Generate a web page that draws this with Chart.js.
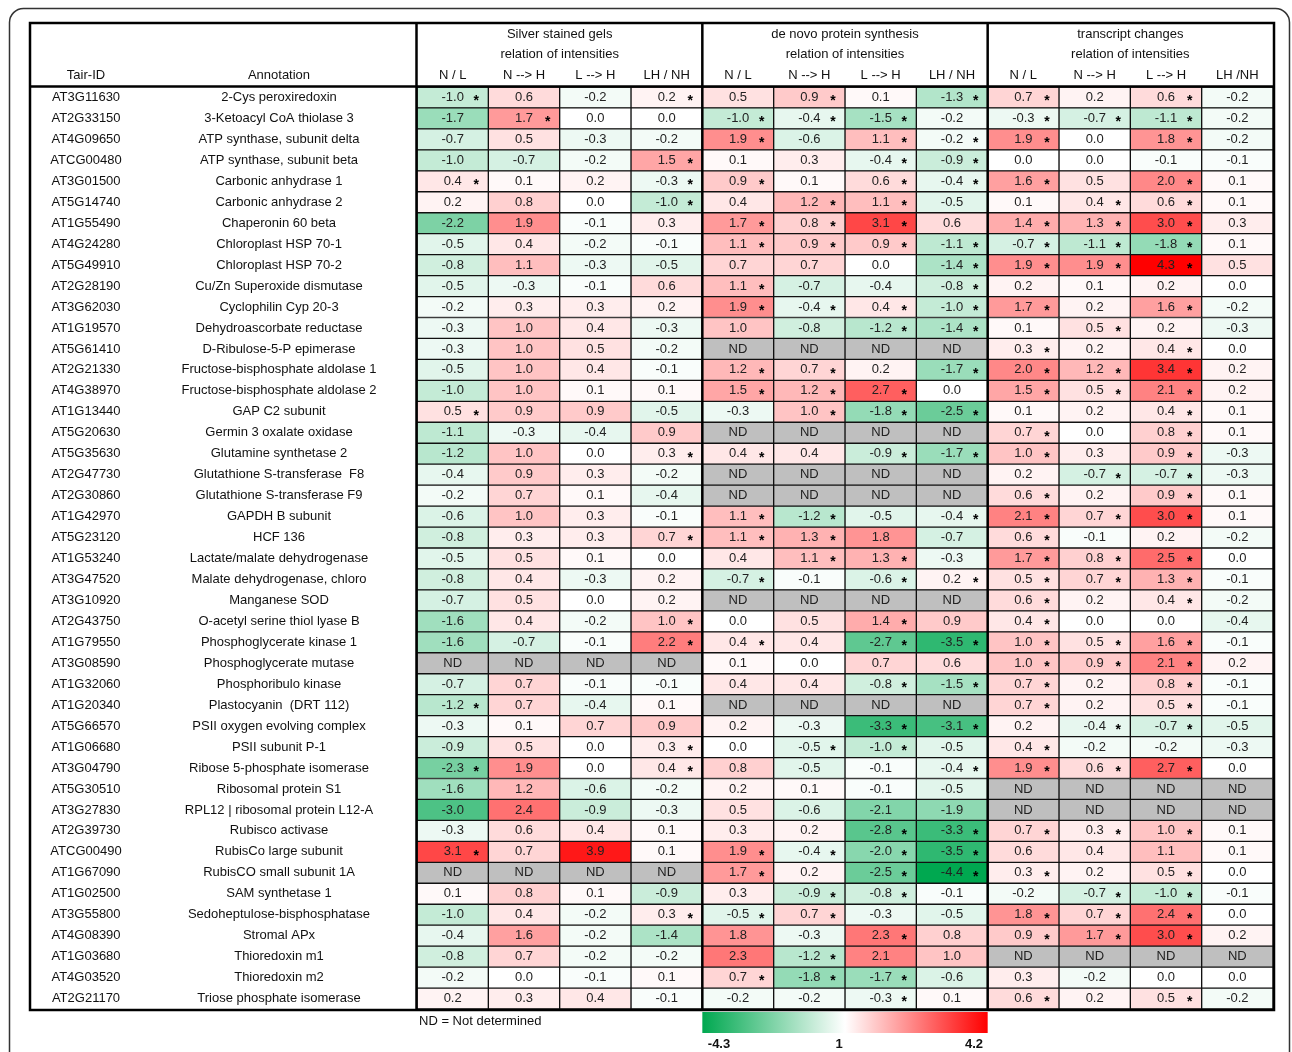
<!DOCTYPE html>
<html>
<head>
<meta charset="utf-8">
<script src="https://cdn.jsdelivr.net/npm/chart.js@4"></script>
<style>
html, body { margin: 0; padding: 0; background: #fff; }
#wrap { position: relative; width: 1292px; height: 1052px; }
</style>
</head>
<body>
<div id="wrap"><canvas id="heatChart"></canvas></div>
<script>
const tairIds = ['AT3G11630','AT2G33150','AT4G09650','ATCG00480','AT3G01500','AT5G14740','AT1G55490','AT4G24280','AT5G49910','AT2G28190','AT3G62030','AT1G19570','AT5G61410','AT2G21330','AT4G38970','AT1G13440','AT5G20630','AT5G35630','AT2G47730','AT2G30860','AT1G42970','AT5G23120','AT1G53240','AT3G47520','AT3G10920','AT2G43750','AT1G79550','AT3G08590','AT1G32060','AT1G20340','AT5G66570','AT1G06680','AT3G04790','AT5G30510','AT3G27830','AT2G39730','ATCG00490','AT1G67090','AT1G02500','AT3G55800','AT4G08390','AT1G03680','AT4G03520','AT2G21170'];

const annotations = ['2-Cys peroxiredoxin','3-Ketoacyl CoA thiolase 3','ATP synthase, subunit delta','ATP synthase, subunit beta','Carbonic anhydrase 1','Carbonic anhydrase 2','Chaperonin 60 beta','Chloroplast HSP 70-1','Chloroplast HSP 70-2','Cu/Zn Superoxide dismutase','Cyclophilin Cyp 20-3','Dehydroascorbate reductase','D-Ribulose-5-P epimerase','Fructose-bisphosphate aldolase 1','Fructose-bisphosphate aldolase 2','GAP C2 subunit','Germin 3 oxalate oxidase','Glutamine synthetase 2','Glutathione S-transferase  F8','Glutathione S-transferase F9','GAPDH B subunit','HCF 136','Lactate/malate dehydrogenase','Malate dehydrogenase, chloro','Manganese SOD','O-acetyl serine thiol lyase B','Phosphoglycerate kinase 1','Phosphoglycerate mutase','Phosphoribulo kinase','Plastocyanin  (DRT 112)','PSII oxygen evolving complex','PSII subunit P-1','Ribose 5-phosphate isomerase','Ribosomal protein S1','RPL12 | ribosomal protein L12-A','Rubisco activase','RubisCo large subunit','RubisCO small subunit 1A','SAM synthetase 1','Sedoheptulose-bisphosphatase','Stromal APx','Thioredoxin m1','Thioredoxin m2','Triose phosphate isomerase'];

const groupTitles = ['Silver stained gels', 'de novo protein synthesis', 'transcript changes'];
const groupSubtitle = 'relation of intensities';
const columnLabels = ['N / L','N --> H','L --> H','LH / NH','N / L','N --> H','L --> H','LH / NH','N / L','N --> H','L --> H','LH /NH'];
const legendTicks = ['-4.3', '1', '4.2'];

// "*" = significant, "ND" = not determined
const silverGels = [
  ['-1.0*','0.6','-0.2','0.2*'], ['-1.7','1.7*','0.0','0.0'], ['-0.7','0.5','-0.3','-0.2'], ['-1.0','-0.7','-0.2','1.5*'],
  ['0.4*','0.1','0.2','-0.3*'], ['0.2','0.8','0.0','-1.0*'], ['-2.2','1.9','-0.1','0.3'], ['-0.5','0.4','-0.2','-0.1'],
  ['-0.8','1.1','-0.3','-0.5'], ['-0.5','-0.3','-0.1','0.6'], ['-0.2','0.3','0.3','0.2'], ['-0.3','1.0','0.4','-0.3'],
  ['-0.3','1.0','0.5','-0.2'], ['-0.5','1.0','0.4','-0.1'], ['-1.0','1.0','0.1','0.1'], ['0.5*','0.9','0.9','-0.5'],
  ['-1.1','-0.3','-0.4','0.9'], ['-1.2','1.0','0.0','0.3*'], ['-0.4','0.9','0.3','-0.2'], ['-0.2','0.7','0.1','-0.4'],
  ['-0.6','1.0','0.3','-0.1'], ['-0.8','0.3','0.3','0.7*'], ['-0.5','0.5','0.1','0.0'], ['-0.8','0.4','-0.3','0.2'],
  ['-0.7','0.5','0.0','0.2'], ['-1.6','0.4','-0.2','1.0*'], ['-1.6','-0.7','-0.1','2.2*'], ['ND','ND','ND','ND'],
  ['-0.7','0.7','-0.1','-0.1'], ['-1.2*','0.7','-0.4','0.1'], ['-0.3','0.1','0.7','0.9'], ['-0.9','0.5','0.0','0.3*'],
  ['-2.3*','1.9','0.0','0.4*'], ['-1.6','1.2','-0.6','-0.2'], ['-3.0','2.4','-0.9','-0.3'], ['-0.3','0.6','0.4','0.1'],
  ['3.1*','0.7','3.9','0.1'], ['ND','ND','ND','ND'], ['0.1','0.8','0.1','-0.9'], ['-1.0','0.4','-0.2','0.3*'],
  ['-0.4','1.6','-0.2','-1.4'], ['-0.8','0.7','-0.2','-0.2'], ['-0.2','0.0','-0.1','0.1'], ['0.2','0.3','0.4','-0.1']
];

const deNovo = [
  ['0.5','0.9*','0.1','-1.3*'], ['-1.0*','-0.4*','-1.5*','-0.2'], ['1.9*','-0.6','1.1*','-0.2*'], ['0.1','0.3','-0.4*','-0.9*'],
  ['0.9*','0.1','0.6*','-0.4*'], ['0.4','1.2*','1.1*','-0.5'], ['1.7*','0.8*','3.1*','0.6'], ['1.1*','0.9*','0.9*','-1.1*'],
  ['0.7','0.7','0.0','-1.4*'], ['1.1*','-0.7','-0.4','-0.8*'], ['1.9*','-0.4*','0.4*','-1.0*'], ['1.0','-0.8','-1.2*','-1.4*'],
  ['ND','ND','ND','ND'], ['1.2*','0.7*','0.2','-1.7*'], ['1.5*','1.2*','2.7*','0.0'], ['-0.3','1.0*','-1.8*','-2.5*'],
  ['ND','ND','ND','ND'], ['0.4*','0.4','-0.9*','-1.7*'], ['ND','ND','ND','ND'], ['ND','ND','ND','ND'],
  ['1.1*','-1.2*','-0.5','-0.4*'], ['1.1*','1.3*','1.8','-0.7'], ['0.4','1.1*','1.3*','-0.3'], ['-0.7*','-0.1','-0.6*','0.2*'],
  ['ND','ND','ND','ND'], ['0.0','0.5','1.4*','0.9'], ['0.4*','0.4','-2.7*','-3.5*'], ['0.1','0.0','0.7','0.6'],
  ['0.4','0.4','-0.8*','-1.5*'], ['ND','ND','ND','ND'], ['0.2','-0.3','-3.3*','-3.1*'], ['0.0','-0.5*','-1.0*','-0.5'],
  ['0.8','-0.5','-0.1','-0.4*'], ['0.2','0.1','-0.1','-0.5'], ['0.5','-0.6','-2.1','-1.9'], ['0.3','0.2','-2.8*','-3.3*'],
  ['1.9*','-0.4*','-2.0*','-3.5*'], ['1.7*','0.2','-2.5*','-4.4*'], ['0.3','-0.9*','-0.8*','-0.1'], ['-0.5*','0.7*','-0.3','-0.5'],
  ['1.8','-0.3','2.3*','0.8'], ['2.3','-1.2*','2.1','1.0'], ['0.7*','-1.8*','-1.7*','-0.6'], ['-0.2','-0.2','-0.3*','0.1']
];

const transcripts = [
  ['0.7*','0.2','0.6*','-0.2'], ['-0.3*','-0.7*','-1.1*','-0.2'], ['1.9*','0.0','1.8*','-0.2'], ['0.0','0.0','-0.1','-0.1'],
  ['1.6*','0.5','2.0*','0.1'], ['0.1','0.4*','0.6*','0.1'], ['1.4*','1.3*','3.0*','0.3'], ['-0.7*','-1.1*','-1.8*','0.1'],
  ['1.9*','1.9*','4.3*','0.5'], ['0.2','0.1','0.2','0.0'], ['1.7*','0.2','1.6*','-0.2'], ['0.1','0.5*','0.2','-0.3'],
  ['0.3*','0.2','0.4*','0.0'], ['2.0*','1.2*','3.4*','0.2'], ['1.5*','0.5*','2.1*','0.2'], ['0.1','0.2','0.4*','0.1'],
  ['0.7*','0.0','0.8*','0.1'], ['1.0*','0.3','0.9*','-0.3'], ['0.2','-0.7*','-0.7*','-0.3'], ['0.6*','0.2','0.9*','0.1'],
  ['2.1*','0.7*','3.0*','0.1'], ['0.6*','-0.1','0.2','-0.2'], ['1.7*','0.8*','2.5*','0.0'], ['0.5*','0.7*','1.3*','-0.1'],
  ['0.6*','0.2','0.4*','-0.2'], ['0.4*','0.0','0.0','-0.4'], ['1.0*','0.5*','1.6*','-0.1'], ['1.0*','0.9*','2.1*','0.2'],
  ['0.7*','0.2','0.8*','-0.1'], ['0.7*','0.2','0.5*','-0.1'], ['0.2','-0.4*','-0.7*','-0.5'], ['0.4*','-0.2','-0.2','-0.3'],
  ['1.9*','0.6*','2.7*','0.0'], ['ND','ND','ND','ND'], ['ND','ND','ND','ND'], ['0.7*','0.3*','1.0*','0.1'],
  ['0.6','0.4','1.1','0.1'], ['0.3*','0.2','0.5*','0.0'], ['-0.2','-0.7*','-1.0*','-0.1'], ['1.8*','0.7*','2.4*','0.0'],
  ['0.9*','1.7*','3.0*','0.2'], ['ND','ND','ND','ND'], ['0.3','-0.2','0.0','0.0'], ['0.6*','0.2','0.5*','-0.2']
];

const FONT = '"Liberation Sans", Arial, sans-serif';

function parseCell(s) {
    return {
        nd: s === 'ND',
        value: parseFloat(s),
        star: s.endsWith('*'),
        text: s.replace('*', '')
    };
}

// one row of 12 cells per protein
const cells = tairIds.map((id, i) => [...silverGels[i], ...deNovo[i], ...transcripts[i]].map(parseCell));

function cellColor(c) {
    if (c.nd) return 'rgb(191,191,191)';
    const t = Math.min(1, Math.abs(c.value) / 4.3);
    if (c.value < 0) {
        return `rgb(${Math.round(255 - 255 * t)},${Math.round(255 - 87 * t)},${Math.round(255 - 175 * t)})`;
    }
    return `rgb(255,${Math.round(255 - 255 * t)},${Math.round(255 - 255 * t)})`;
}

const datasets = columnLabels.map((label, j) => ({
    label: label,
    data: cells.map(() => [j, j + 1]),
    backgroundColor: cells.map(row => cellColor(row[j])),
    borderColor: '#111',
    borderWidth: 1,
    borderSkipped: false,
    grouped: false,
    barPercentage: 1,
    categoryPercentage: 1
}));

const tablePlugin = {
    id: 'tablePlugin',
    afterDraw(chart) {
        const ctx = chart.ctx;
        const xs = chart.scales.x;
        const ys = chart.scales.y;
        const top = 23, bottom = 1010, left = 30, right = 1274;

        ctx.save();
        // rounded outer frame
        ctx.strokeStyle = '#333';
        ctx.lineWidth = 1.5;
        ctx.beginPath();
        ctx.roundRect(9.5, 8.5, 1280, 1100, 14);
        ctx.stroke();

        // table borders
        ctx.strokeStyle = '#000';
        ctx.lineWidth = 2.5;
        ctx.strokeRect(left, top, right - left, bottom - top);
        ctx.beginPath();
        ctx.moveTo(left, 86.5); ctx.lineTo(right, 86.5);
        [416.5, xs.getPixelForValue(4), xs.getPixelForValue(8)].forEach(x => {
            ctx.moveTo(x, top); ctx.lineTo(x, bottom);
        });
        ctx.stroke();

        // header texts
        ctx.fillStyle = '#111';
        ctx.font = '13px ' + FONT;
        ctx.textAlign = 'center';
        ctx.textBaseline = 'middle';
        ctx.fillText('Tair-ID', 86, 75);
        ctx.fillText('Annotation', 279, 75);
        groupTitles.forEach((title, g) => {
            const cx = (xs.getPixelForValue(g * 4) + xs.getPixelForValue(g * 4 + 4)) / 2;
            ctx.fillText(title, cx, 34);
            ctx.fillText(groupSubtitle, cx, 54);
        });
        columnLabels.forEach((label, j) => {
            ctx.fillText(label, xs.getPixelForValue(j + 0.5), 75);
        });

        // row labels and cell values
        tairIds.forEach((id, i) => {
            const y = ys.getPixelForValue(i);
            ctx.font = '13px ' + FONT;
            ctx.fillStyle = '#111';
            ctx.fillText(id, 86, y);
            ctx.fillText(annotations[i], 279, y);
            cells[i].forEach((c, j) => {
                ctx.font = '13px ' + FONT;
                ctx.fillStyle = '#222';
                ctx.fillText(c.text, xs.getPixelForValue(j + 0.5), y);
                if (c.star) {
                    ctx.font = 'bold 14px ' + FONT;
                    ctx.fillStyle = '#000';
                    ctx.fillText('*', xs.getPixelForValue(j + 1) - 12, y + 4);
                }
            });
        });

        // footnote
        ctx.font = '13px ' + FONT;
        ctx.fillStyle = '#111';
        ctx.textAlign = 'left';
        ctx.fillText('ND = Not determined', 419, 1021);

        // colour legend
        const gx0 = xs.getPixelForValue(4), gx1 = xs.getPixelForValue(8);
        const grad = ctx.createLinearGradient(gx0, 0, gx1, 0);
        grad.addColorStop(0, 'rgb(0,168,80)');
        grad.addColorStop(0.5, 'rgb(255,255,255)');
        grad.addColorStop(1, 'rgb(255,0,0)');
        ctx.fillStyle = grad;
        ctx.fillRect(gx0, 1012, gx1 - gx0, 21);

        ctx.fillStyle = '#111';
        ctx.font = 'bold 13px ' + FONT;
        ctx.textAlign = 'center';
        ctx.fillText(legendTicks[0], 719, 1044);
        ctx.fillText(legendTicks[1], 839, 1044);
        ctx.fillText(legendTicks[2], 974, 1044);
        ctx.restore();
    }
};

new Chart(document.getElementById('heatChart').getContext('2d'), {
    type: 'bar',
    data: {
        labels: tairIds,
        datasets: datasets
    },
    options: {
        indexAxis: 'y',
        responsive: true,
        maintainAspectRatio: false,
        animation: false,
        layout: {
            padding: { left: 417, right: 19, top: 87, bottom: 43 }
        },
        scales: {
            x: { type: 'linear', min: 0, max: 12, display: false },
            y: { type: 'category', display: false, offset: true }
        },
        plugins: {
            legend: { display: false },
            tooltip: { enabled: false }
        }
    },
    plugins: [tablePlugin]
});
</script>
</body>
</html>
